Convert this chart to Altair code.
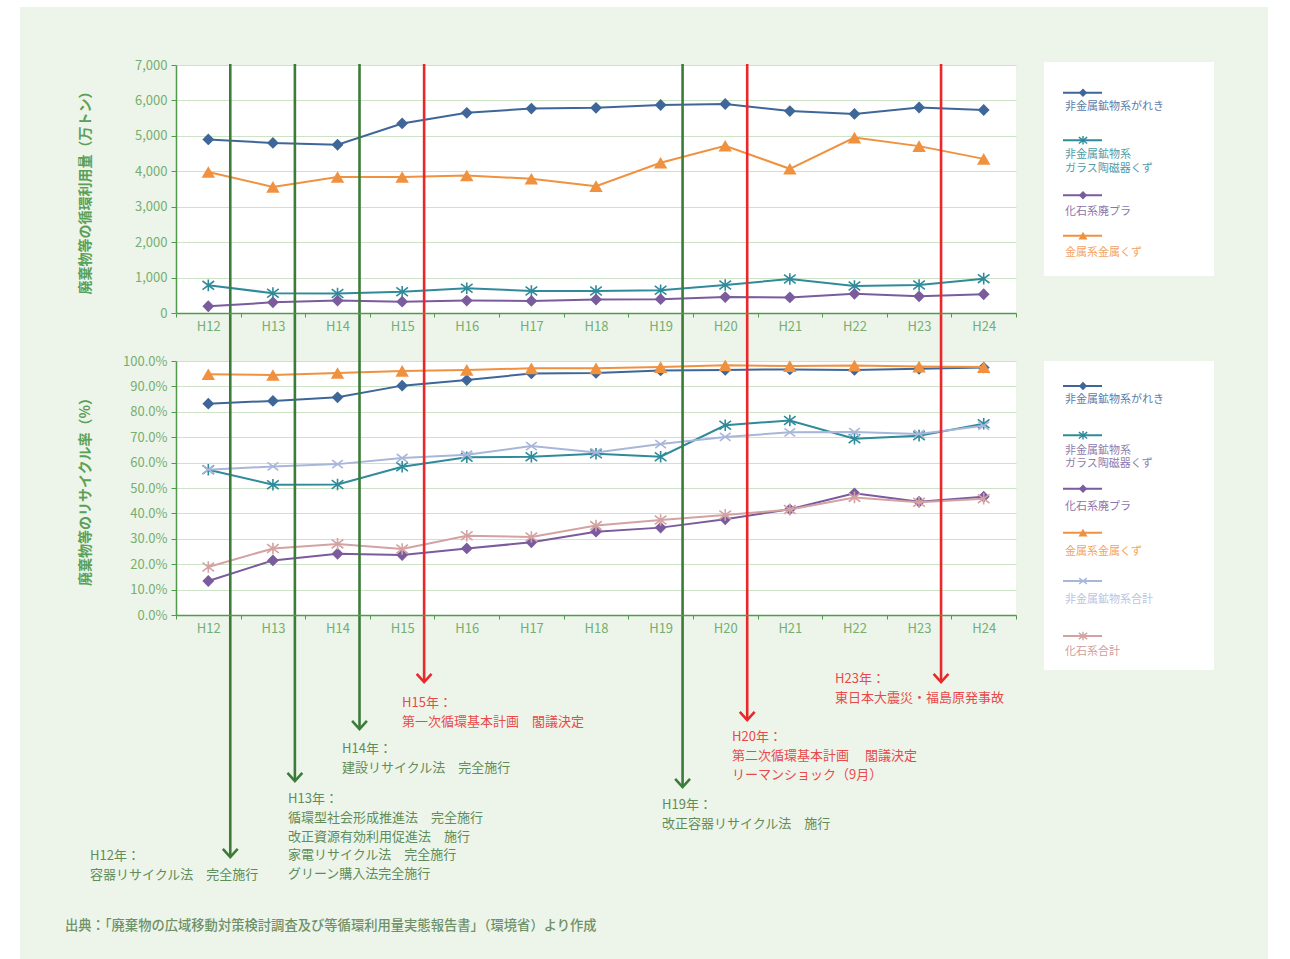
import altair as alt
import pandas as pd

FONT = "Noto Sans CJK JP"

# ---------------------------------------------------------------- data
years = ["H12", "H13", "H14", "H15", "H16", "H17", "H18",
         "H19", "H20", "H21", "H22", "H23", "H24"]

S_RUBBLE = "非金属鉱物系がれき"
S_GLASS = "非金属鉱物系\nガラス陶磁器くず"
S_PLASTIC = "化石系廃プラ"
S_METAL = "金属系金属くず"
S_MINERAL = "非金属鉱物系合計"
S_FOSSIL = "化石系合計"

# 循環利用量（万トン）
rubble_amt = [4900, 4800, 4750, 5350, 5650, 5770, 5790, 5870, 5900, 5700, 5620, 5800, 5730]
glass_amt = [780, 560, 550, 600, 700, 620, 620, 640, 790, 960, 760, 790, 970]
plastic_amt = [190, 300, 350, 320, 350, 340, 380, 390, 450, 440, 540, 470, 530]
metal_amt = [3980, 3560, 3840, 3840, 3880, 3790, 3580, 4240, 4720, 4070, 4950, 4710, 4350]

# リサイクル率（%）
rubble_rate = [83.2, 84.3, 85.7, 90.3, 92.5, 95.1, 95.3, 96.3, 96.5, 96.7, 96.5, 96.9, 97.4]
glass_rate = [57.2, 51.3, 51.4, 58.4, 62.1, 62.3, 63.5, 62.3, 74.7, 76.6, 69.4, 70.6, 75.3]
plastic_rate = [13.4, 21.5, 24.1, 23.6, 26.2, 28.6, 32.8, 34.4, 37.7, 41.6, 47.9, 44.6, 46.6]
metal_rate = [94.8, 94.5, 95.3, 96.1, 96.5, 97.1, 97.1, 97.6, 98.3, 98.0, 98.2, 97.8, 97.6]
mineral_total_rate = [57.2, 58.5, 59.4, 61.8, 63.1, 66.5, 64.0, 67.3, 70.1, 71.9, 72.0, 71.3, 74.5]
fossil_total_rate = [18.9, 26.2, 28.0, 26.0, 31.2, 30.7, 35.2, 37.4, 39.4, 41.5, 46.3, 44.4, 45.8]

top_series = [(S_RUBBLE, rubble_amt), (S_GLASS, glass_amt),
              (S_PLASTIC, plastic_amt), (S_METAL, metal_amt)]
bottom_series = [(S_RUBBLE, rubble_rate), (S_GLASS, glass_rate),
                 (S_PLASTIC, plastic_rate), (S_METAL, metal_rate),
                 (S_MINERAL, mineral_total_rate), (S_FOSSIL, fossil_total_rate)]

# 政策・出来事
event_years = ["H12", "H13", "H14", "H15", "H19", "H20", "H23"]
event_kinds = ["law", "law", "law", "plan", "law", "plan", "plan"]
event_texts = [
    ["H12年：", "容器リサイクル法　完全施行"],
    ["H13年：", "循環型社会形成推進法　完全施行", "改正資源有効利用促進法　施行",
     "家電リサイクル法　完全施行", "グリーン購入法完全施行"],
    ["H14年：", "建設リサイクル法　完全施行"],
    ["H15年：", "第一次循環基本計画　閣議決定"],
    ["H19年：", "改正容器リサイクル法　施行"],
    ["H20年：", "第二次循環基本計画　 閣議決定", "リーマンショック（9月）"],
    ["H23年：", "東日本大震災・福島原発事故"],
]
source_text = "出典：「廃棄物の広域移動対策検討調査及び等循環利用量実態報告書」（環境省）より作成"

# ---------------------------------------------------------------- layout
W, H = 840, 550            # plot group: top panel 0..248, bottom panel 296..550
TOP_H = 248
BOT_Y0, BOT_Y1 = 296, 550
PAD_L, PAD_T = 176, 65
PAGE_W, PAGE_H = 1290, 959

def gx(px):
    return px - PAD_L

def gy(py):
    return py - PAD_T

# annotation anchors (page pixels)
event_arrow_tip = [857, 781, 729, 682, 787, 720, 682]
event_text_xy = [(90, 856), (288, 799), (342, 749), (402, 703),
                 (662, 805), (732, 737), (835, 679)]
LINE_STEP = 18.8
ARROW_BAND = 0.84

# ---------------------------------------------------------------- styles
PANEL = "#edf5ea"
GRID = "#cde2c7"
AXIS = "#4f9a4c"
TICK_LABEL = "#76ae70"
TITLE = "#5aa056"
GREEN_ARROW = "#3c7b3a"
RED_ARROW = "#e8282a"
GREEN_TEXT = "#5f8c59"
RED_TEXT = "#e9494b"

AST6 = "M-1,-0.75L1,0.75M-1,0.75L1,-0.75M0,-1L0,1"
CROSS = "M-1,-0.75L1,0.75M-1,0.75L1,-0.75"
ARROWHEAD = "M-1,-1.1L0,0L1,-1.1"

style = {
    S_RUBBLE: dict(color="#3e6699", shape="diamond", filled=True, label="#5b7caa"),
    S_GLASS: dict(color="#2f8b9a", shape=AST6, filled=False, label="#4f9ba8"),
    S_PLASTIC: dict(color="#7a5b9d", shape="diamond", filled=True, label="#8b74ab"),
    S_METAL: dict(color="#f0913f", shape="triangle-up", filled=True, label="#f2a262"),
    S_MINERAL: dict(color="#a8b6d9", shape=CROSS, filled=False, label="#b9c5e1"),
    S_FOSSIL: dict(color="#d4a2a2", shape=AST6, filled=False, label="#cf9d9d"),
}
size_plot = {"diamond": 140, "triangle-up": 180, AST6: 135, CROSS: 115}
size_legend = {"diamond": 70, "triangle-up": 80, AST6: 70, CROSS: 60}

# ---------------------------------------------------------------- scales / axes
xscale = alt.Scale(type="band", domain=years, paddingInner=0, paddingOuter=0)

x_axis_common = dict(
    title=None, orient="bottom", tickBand="extent", tickSize=4, labelPadding=3,
    labelAngle=0, grid=False, zindex=1, domainColor=AXIS, domainWidth=1.5,
    tickColor=AXIS, labelColor=TICK_LABEL, labelFont=FONT, labelFontSize=13,
)
top_xaxis = alt.Axis(offset=TOP_H - H, **x_axis_common)
bottom_xaxis = alt.Axis(**x_axis_common)

y_axis_common = dict(
    orient="left", grid=True, gridColor=GRID, gridWidth=1.2, domainColor=AXIS,
    domainWidth=1.5, tickColor=AXIS, tickSize=5, labelPadding=4,
    labelColor=TICK_LABEL, labelFont=FONT, labelFontSize=13,
    titleFont=FONT, titleFontSize=14, titleFontWeight="bold", titleColor=TITLE,
    titleAngle=270, titleAlign="center", titleBaseline="middle", titleX=gx(85),
    zindex=0,
)
top_yaxis = alt.Axis(title="廃棄物等の循環利用量（万トン）", values=list(range(0, 7001, 1000)),
                     labelExpr="format(datum.value, ',')",
                     titleY=TOP_H / 2, **y_axis_common)
bottom_yaxis = alt.Axis(title="廃棄物等のリサイクル率（%）", values=list(range(0, 101, 10)),
                        labelExpr="format(datum.value, '.1f') + '%'",
                        titleY=(BOT_Y0 + BOT_Y1) / 2, **y_axis_common)

ytop_scale = alt.Scale(domain=[0, 7000], range=[TOP_H, 0], nice=False)
ybot_scale = alt.Scale(domain=[0, 100], range=[BOT_Y1, BOT_Y0], nice=False)

dummy = pd.DataFrame({"k": [0]})


def box(x0, x1, y0, y1, fill):
    return alt.Chart(dummy).mark_rect(fill=fill, strokeWidth=0).encode(
        x=alt.value(x0), x2=alt.value(x1), y=alt.value(y0), y2=alt.value(y1))


def series_layers(series, xaxis, yscale, yaxis, sizes):
    layers = []
    for name, vals in series:
        st = style[name]
        df = pd.DataFrame({"year": years, "value": vals})
        enc = dict(x=alt.X("year:N", scale=xscale, axis=xaxis, bandPosition=0.5),
                   y=alt.Y("value:Q", scale=yscale, axis=yaxis))
        layers.append(alt.Chart(df).mark_line(color=st["color"], strokeWidth=2).encode(**enc))
        layers.append(alt.Chart(df).mark_point(
            shape=st["shape"], filled=st["filled"], size=sizes[st["shape"]],
            color=st["color"], opacity=1, strokeWidth=1.6).encode(**enc))
    return layers


def legend_layers(names, sym_y, lab_y, label_colors=None):
    layers = []
    for i, name in enumerate(names):
        st = style[name]
        sy, ly = gy(sym_y[i]), gy(lab_y[i])
        layers.append(alt.Chart(dummy).mark_rule(color=st["color"], strokeWidth=2).encode(
            x=alt.value(gx(1063)), x2=alt.value(gx(1102)), y=alt.value(sy)))
        layers.append(alt.Chart(dummy).mark_point(
            shape=st["shape"], filled=st["filled"], size=size_legend[st["shape"]],
            color=st["color"], opacity=1, strokeWidth=1.4).encode(
            x=alt.value(gx(1083)), y=alt.value(sy)))
        lc = label_colors[i] if label_colors else st["label"]
        for j, line in enumerate(name.split("\n")):
            layers.append(alt.Chart(dummy).mark_text(
                text=line, align="left", baseline="middle", font=FONT, fontSize=11,
                color=lc).encode(x=alt.value(gx(1065)), y=alt.value(ly + j * 13.5)))
    return layers


# ---------------------------------------------------------------- top panel
top_layers = [
    # page margins and the gap between the two panels
    box(-PAD_L, gx(20), -PAD_T, PAGE_H - PAD_T, "white"),
    box(gx(1268), PAGE_W - PAD_L, -PAD_T, PAGE_H - PAD_T, "white"),
    box(-PAD_L, PAGE_W - PAD_L, -PAD_T, gy(7), "white"),
    box(0, W, TOP_H, BOT_Y0, PANEL),
    # legend box
    box(gx(1044), gx(1214), gy(62), gy(276), "white"),
]
top_layers += series_layers(top_series, top_xaxis, ytop_scale, top_yaxis, size_plot)
top_layers += legend_layers([S_RUBBLE, S_GLASS, S_PLASTIC, S_METAL],
                            [92.7, 140.3, 195.3, 235.7], [106.7, 155.3, 211.7, 252.7])
top = alt.layer(*top_layers)

# ---------------------------------------------------------------- bottom panel
bottom_layers = [box(gx(1044), gx(1214), gy(361), gy(670), "white")]
bottom_layers += series_layers(bottom_series, bottom_xaxis, ybot_scale, bottom_yaxis, size_plot)
bottom_names = [S_RUBBLE, S_GLASS, S_PLASTIC, S_METAL, S_MINERAL, S_FOSSIL]
bottom_label_colors = [style[n]["label"] for n in bottom_names]
bottom_label_colors[1] = "#8e7bae"
bottom_layers += legend_layers(bottom_names,
                               [386, 435.3, 488.7, 532.7, 581, 636],
                               [400, 450.7, 506.7, 551.7, 600, 652.3],
                               bottom_label_colors)

# policy arrows and notes
for yr, kind, tip, (tx, ty), lines in zip(event_years, event_kinds, event_arrow_tip,
                                         event_text_xy, event_texts):
    acol = GREEN_ARROW if kind == "law" else RED_ARROW
    tcol = GREEN_TEXT if kind == "law" else RED_TEXT
    df = pd.DataFrame({"year": [yr]})
    xe = alt.X("year:N", scale=xscale, axis=bottom_xaxis, bandPosition=ARROW_BAND)
    bottom_layers.append(alt.Chart(df).mark_rule(color=acol, strokeWidth=2.6).encode(
        x=xe, y=alt.value(-1), y2=alt.value(gy(tip) - 1.5)))
    bottom_layers.append(alt.Chart(df).mark_point(
        shape=ARROWHEAD, filled=False, size=220, color=acol, opacity=1,
        strokeWidth=2.6).encode(x=xe, y=alt.value(gy(tip))))
    for j, line in enumerate(lines):
        bottom_layers.append(alt.Chart(dummy).mark_text(
            text=line, align="left", baseline="middle", font=FONT, fontSize=13,
            color=tcol).encode(x=alt.value(gx(tx)), y=alt.value(gy(ty + j * LINE_STEP))))

bottom_layers.append(alt.Chart(dummy).mark_text(
    text=source_text, align="left", baseline="middle", font=FONT, fontSize=13.3,
    fontWeight=500, color="#6e9168").encode(x=alt.value(gx(65)), y=alt.value(gy(925.5))))

bottom = alt.layer(*bottom_layers)

chart = (
    alt.layer(top, bottom)
    .resolve_scale(x="independent", y="independent")
    .properties(
        width=W, height=H,
        autosize=alt.AutoSizeParams(type="none"),
        padding={"left": PAD_L, "top": PAD_T, "right": PAGE_W - PAD_L - W,
                 "bottom": PAGE_H - PAD_T - H},
    )
    .configure(background=PANEL)
    .configure_view(fill="white", strokeWidth=0)
)

chart.save("out.html", embed_options={"renderer": "svg", "actions": False})
